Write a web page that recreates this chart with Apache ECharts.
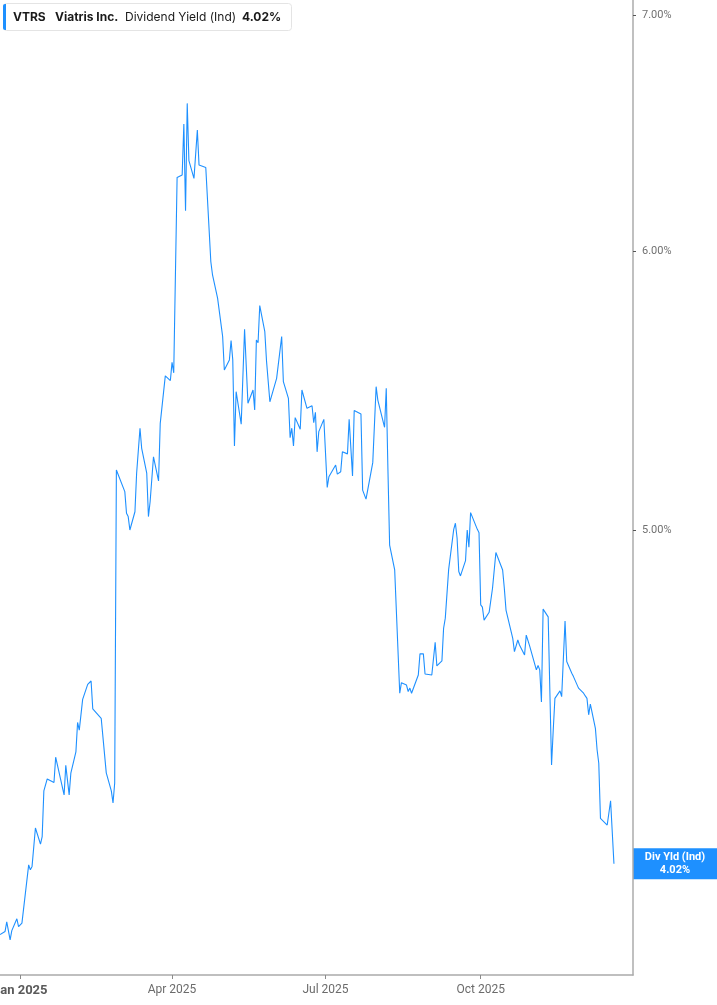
<!DOCTYPE html>
<html><head><meta charset="utf-8">
<script src="https://cdn.jsdelivr.net/npm/echarts@6/dist/echarts.min.js"></script>
<style>html,body{margin:0;padding:0;background:#fff}#c{width:717px;height:1005px}</style>
</head><body><div id="c"></div>
<script>
const dates = [
'2024-12-20','2024-12-23','2024-12-24','2024-12-26','2024-12-27','2024-12-30','2024-12-31','2025-01-02','2025-01-06','2025-01-07',
'2025-01-08','2025-01-10','2025-01-13','2025-01-14','2025-01-15','2025-01-17','2025-01-21','2025-01-22','2025-01-23','2025-01-27',
'2025-01-28','2025-01-30','2025-01-31','2025-02-03','2025-02-04','2025-02-05','2025-02-07','2025-02-10','2025-02-12','2025-02-13',
'2025-02-14','2025-02-18','2025-02-21','2025-02-24','2025-02-25','2025-02-26','2025-02-27','2025-03-04','2025-03-05','2025-03-06',
'2025-03-07','2025-03-10','2025-03-11','2025-03-13','2025-03-14','2025-03-17','2025-03-18','2025-03-19','2025-03-20','2025-03-21',
'2025-03-24','2025-03-25','2025-03-26','2025-03-28','2025-03-31','2025-04-01','2025-04-02','2025-04-04','2025-04-07','2025-04-08',
'2025-04-09','2025-04-10','2025-04-11','2025-04-14','2025-04-16','2025-04-17','2025-04-21','2025-04-24','2025-04-25','2025-04-28',
'2025-05-01','2025-05-02','2025-05-05','2025-05-06','2025-05-07','2025-05-08','2025-05-09','2025-05-12','2025-05-14','2025-05-16',
'2025-05-19','2025-05-20','2025-05-21','2025-05-22','2025-05-23','2025-05-26','2025-05-27','2025-05-28','2025-05-29','2025-06-02',
'2025-06-03','2025-06-05','2025-06-06','2025-06-09','2025-06-10','2025-06-11','2025-06-12','2025-06-13','2025-06-16','2025-06-17',
'2025-06-18','2025-06-20','2025-06-23','2025-06-24','2025-06-25','2025-06-26','2025-06-27','2025-06-30','2025-07-02','2025-07-03',
'2025-07-07','2025-07-08','2025-07-10','2025-07-11','2025-07-14','2025-07-15','2025-07-17','2025-07-18','2025-07-22','2025-07-23',
'2025-07-24','2025-07-25','2025-07-29','2025-07-31','2025-08-01','2025-08-05','2025-08-06','2025-08-07','2025-08-08','2025-08-11',
'2025-08-14','2025-08-15','2025-08-18','2025-08-19','2025-08-20','2025-08-21','2025-08-25','2025-08-26','2025-08-28','2025-08-29',
'2025-09-02','2025-09-03','2025-09-04','2025-09-05','2025-09-08','2025-09-09','2025-09-10','2025-09-12','2025-09-15','2025-09-16',
'2025-09-17','2025-09-18','2025-09-19','2025-09-22','2025-09-23','2025-09-24','2025-09-25','2025-09-29','2025-09-30','2025-10-01',
'2025-10-02','2025-10-03','2025-10-06','2025-10-07','2025-10-08','2025-10-09','2025-10-10','2025-10-14','2025-10-15','2025-10-16',
'2025-10-20','2025-10-21','2025-10-22','2025-10-23','2025-10-24','2025-10-27','2025-10-28','2025-10-29','2025-10-30','2025-10-31',
'2025-11-03','2025-11-04','2025-11-05','2025-11-06','2025-11-07','2025-11-10','2025-11-11','2025-11-12','2025-11-13','2025-11-14',
'2025-11-17','2025-11-18','2025-11-20','2025-11-21','2025-11-24','2025-11-25','2025-11-26','2025-11-28','2025-12-01','2025-12-02',
'2025-12-03','2025-12-04','2025-12-05','2025-12-08','2025-12-09','2025-12-10','2025-12-11','2025-12-12','2025-12-15','2025-12-16',
'2025-12-17','2025-12-19'
];
const yields = [
3.838,3.846,3.870,3.825,3.848,3.878,3.858,3.867,4.017,4.004,
4.013,4.115,4.072,4.092,4.216,4.249,4.239,4.310,4.309,4.205,
4.287,4.205,4.265,4.325,4.409,4.387,4.476,4.520,4.530,4.448,
4.445,4.421,4.266,4.216,4.183,4.238,5.200,5.127,5.055,5.044,
5.000,5.060,5.189,5.344,5.274,5.189,5.044,5.093,5.088,5.245,
5.163,5.361,5.361,5.530,5.513,5.579,5.541,6.296,6.306,6.519,
6.160,6.608,6.365,6.292,6.494,6.347,6.337,5.958,5.907,5.818,
5.674,5.551,5.588,5.659,5.588,5.282,5.473,5.358,5.701,5.432,
5.479,5.408,5.661,5.651,5.790,5.692,5.585,5.585,5.437,5.521,
5.515,5.674,5.509,5.449,5.311,5.344,5.282,5.381,5.340,5.479,
5.476,5.414,5.423,5.363,5.400,5.262,5.332,5.375,5.141,5.177,
5.217,5.186,5.194,5.262,5.255,5.375,5.180,5.406,5.394,5.132,
5.127,5.102,5.225,5.491,5.443,5.347,5.485,5.200,4.951,4.871,
4.494,4.525,4.518,4.499,4.509,4.494,4.548,4.611,4.611,4.551,
4.548,4.553,4.646,4.575,4.590,4.689,4.720,4.873,5.002,5.022,
4.973,4.866,4.852,4.901,5.000,4.944,5.057,5.002,4.991,4.761,
4.754,4.714,4.738,4.735,4.813,4.808,4.927,4.871,4.813,4.745,
4.658,4.618,4.613,4.653,4.638,4.608,4.668,4.674,4.635,4.633,
4.563,4.576,4.563,4.468,4.748,4.724,4.720,4.288,4.387,4.479,
4.501,4.484,4.711,4.588,4.553,4.543,4.545,4.509,4.494,4.486,
4.479,4.431,4.462,4.392,4.331,4.293,4.141,4.141,4.123,4.118,
4.189,4.020
];
const yTicks = [5, 6, 7];
const xTicks = ['2025-01-01', '2025-04-01', '2025-07-01', '2025-10-01'];
const ticker = 'VTRS', company = 'Viatris Inc.', metric = 'Dividend Yield (Ind)';
const boxTitle = 'Div Yld (Ind)';
const lastValue = yields[yields.length - 1];
const monthNames = ['Jan','Feb','Mar','Apr','May','Jun','Jul','Aug','Sep','Oct','Nov','Dec'];

const BLUE = '#1E90FF';
const ts = s => +new Date(s + 'T00:00:00');
const chart = echarts.init(document.getElementById('c'), null, {renderer: 'canvas'});

chart.setOption({
  animation: false,
  grid: {left: 0, right: 84, top: 0, bottom: 30, containLabel: false, outerBoundsMode: 'none'},
  xAxis: {
    type: 'value',
    min: ts('2024-12-20'),
    max: ts('2025-12-30') + 7 * 3600e3,
    axisLine: {show: true, lineStyle: {color: '#ababab', width: 1.5}},
    axisTick: {show: true, customValues: xTicks.map(ts), length: 4, lineStyle: {color: '#8a8a8a'}},
    axisLabel: {
      customValues: xTicks.map(ts),
      margin: 9,
      hideOverlap: false,
      formatter: function (v) {
        const d = new Date(v);
        const txt = monthNames[d.getMonth()] + ' ' + d.getFullYear();
        return d.getMonth() === 0 ? '{b|' + txt + '}' : '{n|' + txt + '}';
      },
      rich: {
        b: {fontFamily: 'Roboto', fontWeight: 'bold', fontSize: 13, color: '#5a5a5a'},
        n: {fontFamily: 'Roboto', fontSize: 12, color: '#6b6b6b'}
      }
    },
    splitLine: {show: false}
  },
  yAxis: {
    type: 'log',
    position: 'right',
    min: 3.738,
    max: 7.07,
    axisLine: {show: true, lineStyle: {color: '#ababab', width: 1.5}},
    axisTick: {show: true, customValues: yTicks, length: 3, inside: false, lineStyle: {color: '#555'}},
    axisLabel: {
      customValues: yTicks,
      margin: 9,
      fontFamily: 'Roboto',
      fontSize: 11,
      color: '#707070',
      formatter: v => Number(v).toFixed(2) + '%'
    },
    splitLine: {show: false}
  },
  series: [{
    type: 'line',
    data: dates.map((d, i) => [ts(d), yields[i]]),
    showSymbol: false,
    symbol: 'none',
    lineStyle: {color: BLUE, width: 1.1},
    itemStyle: {color: BLUE}
  }]
});

const yLast = chart.convertToPixel({yAxisIndex: 0}, lastValue);
chart.setOption({
  graphic: [
    {type: 'rect', shape: {x: 3.5, y: 3.5, width: 288, height: 27, r: 3},
      style: {fill: '#fff', stroke: '#e4e4e4', lineWidth: 1}},
    {type: 'rect', shape: {x: 3, y: 4, width: 3, height: 26, r: [2, 0, 0, 2]}, style: {fill: BLUE}},
    {type: 'text', x: 13, y: 17, style: {text: ticker, font: 'bold 12px Inter', fill: '#1a1a1a', verticalAlign: 'middle'}},
    {type: 'text', x: 55, y: 17, style: {text: company, font: 'bold 12px Inter', fill: '#1a1a1a', verticalAlign: 'middle'}},
    {type: 'text', x: 125, y: 17, style: {text: metric, font: '12px Inter', fill: '#1a1a1a', verticalAlign: 'middle'}},
    {type: 'text', x: 242, y: 17, style: {text: lastValue.toFixed(2) + '%', font: 'bold 12px Inter', fill: '#1a1a1a', verticalAlign: 'middle'}},
    {type: 'rect', shape: {x: 633, y: yLast - 15.5, width: 84, height: 31}, style: {fill: BLUE}},
    {type: 'text', x: 675, y: yLast - 6.5, style: {text: boxTitle, font: 'bold 11px Roboto', fill: '#fff', align: 'center', verticalAlign: 'middle'}},
    {type: 'text', x: 675, y: yLast + 6.5, style: {text: lastValue.toFixed(2) + '%', font: 'bold 11px Roboto', fill: '#fff', align: 'center', verticalAlign: 'middle'}}
  ]
});
</script>
</body></html>
